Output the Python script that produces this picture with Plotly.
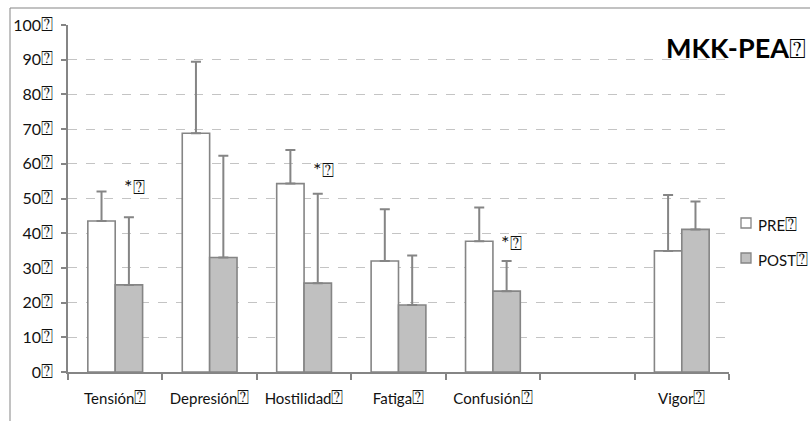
import plotly.graph_objects as go

# Mood-profile scores (POMS-style) before and after the programme
categories = ["Tensión", "Depresión", "Hostilidad", "Fatiga", "Confusión", " ", "Vigor"]
pre_values = [43.5, 68.8, 54.3, 32.0, 37.7, None, 34.9]
pre_errors = [8.5, 20.6, 9.7, 14.9, 9.7, None, 16.1]
post_values = [25.1, 33.0, 25.6, 19.3, 23.3, None, 41.1]
post_errors = [19.5, 29.3, 25.8, 14.3, 8.7, None, 8.0]
y_ticks = list(range(0, 101, 10))
series_names = ["PRE", "POST"]
series_fills = ["white", "#c0c0c0"]

# significance marks: (category index offset, y value)
sig_x = [0.2, 2.21, 4.2]
sig_y = [53.5, 58.5, 37.6]

FONT = "Lato, 'Open Sans', 'DejaVu Sans', sans-serif"
EDGE = "#858585"


def boxed(text, size=20):
    """Append the trailing quad glyph, drawn a little larger than the text."""
    return f'{text}<span style="font-size:{size}px">\u2370</span>'


labels = [c + "\u2370" if c.strip() else c for c in categories]
ticktext = [boxed(c) if c.strip() else c for c in categories]

fig = go.Figure()
for name, vals, errs, fill in zip(series_names, [pre_values, post_values],
                                  [pre_errors, post_errors], series_fills):
    fig.add_trace(go.Bar(
        x=labels, y=vals, name=name,
        marker=dict(color=fill, line=dict(color=EDGE, width=1.6)),
        error_y=dict(type="data", array=errs, symmetric=False,
                     arrayminus=[0] * len(errs),
                     color=EDGE, thickness=2, width=5),
        showlegend=False,
    ))

for xs, ys in zip(sig_x, sig_y):
    fig.add_annotation(x=xs, y=ys, xref="x", yref="y",
                       text='<span style="font-size:20px">*</span><span style="font-size:20px">\u2370</span>',
                       showarrow=False, font=dict(family=FONT, size=17, color="#111"))

fig.add_annotation(x=(664 - 68) / 661, y=(372 - 47) / 347, xref="paper", yref="paper",
                   xanchor="left", yanchor="middle",
                   text="<b>MKK-PEA</b>" + '<span style="font-size:28px">\u2370</span>',
                   showarrow=False, font=dict(family=FONT, size=27, color="#000"))

# legend drawn at the right of the plot area
def px_x(p):
    return (p - 68) / 661


def px_y(p):
    return (372 - p) / 347


for i, (name, fill) in enumerate(zip(series_names, series_fills)):
    cy = 223 + 35 * i
    fig.add_shape(type="rect", xref="paper", yref="paper",
                  x0=px_x(741), x1=px_x(751), y0=px_y(cy + 5), y1=px_y(cy - 5),
                  fillcolor=fill, line=dict(color=EDGE, width=1.3))
    fig.add_annotation(x=px_x(756), y=px_y(cy), xref="paper", yref="paper",
                       xanchor="left", yanchor="middle", text=boxed(name),
                       showarrow=False, font=dict(family=FONT, size=15, color="#111"))

# outer chart-area frame
fig.add_shape(type="rect", xref="paper", yref="paper",
              x0=px_x(10), x1=2, y0=-1, y1=px_y(8),
              line=dict(color=EDGE, width=1), layer="below")

fig.update_layout(
    width=810, height=421,
    margin=dict(l=68, r=81, t=25, b=49, autoexpand=False),
    paper_bgcolor="white", plot_bgcolor="white",
    barmode="group", bargap=0.42, bargroupgap=0,
    font=dict(family=FONT, size=15, color="#111"),
    showlegend=False,
)
fig.update_xaxes(
    type="category", categoryorder="array", categoryarray=labels,
    tickvals=labels, ticktext=ticktext,
    range=[-0.5, 6.5], tickson="boundaries",
    showline=True, linecolor=EDGE, linewidth=1.5,
    ticks="outside", ticklen=6, tickcolor=EDGE, tickwidth=1.5,
    showgrid=False, zeroline=False, ticklabelstandoff=12,
)
fig.update_yaxes(
    range=[0, 100], tickvals=y_ticks, ticktext=[boxed(v, 20) for v in y_ticks],
    tickfont=dict(size=16),
    showline=True, linecolor=EDGE, linewidth=1.5,
    ticks="outside", ticklen=5, tickcolor=EDGE, tickwidth=1.5,
    showgrid=True, gridcolor="#c4c4c4", griddash="dash", gridwidth=1,
    zeroline=False, ticklabelstandoff=5,
)

fig.write_html("out.html")
